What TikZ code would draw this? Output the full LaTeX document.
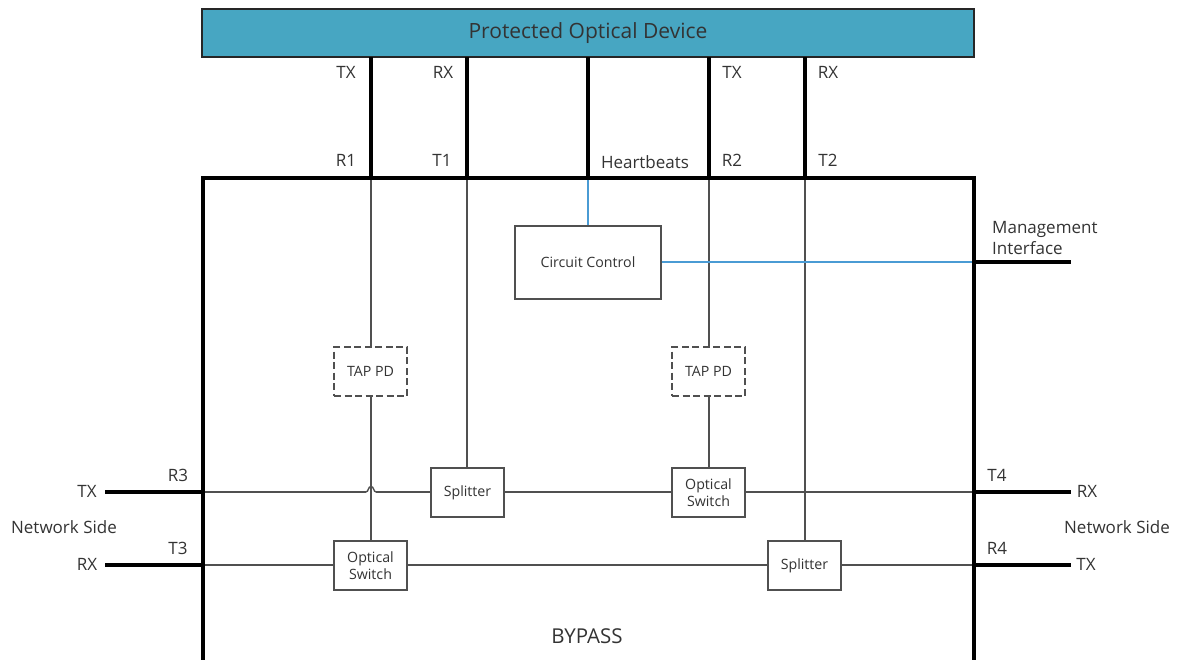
\documentclass[tikz,border=0pt]{standalone}
\usepackage{fontspec}
\setmainfont{Open Sans}
\definecolor{dev}{HTML}{47A6C2}
\definecolor{ctrl}{HTML}{4A9BD4}
\definecolor{txt}{HTML}{333333}
\definecolor{wirecol}{HTML}{505050}
\tikzset{
  x=1pt,y=-1pt,
  thickline/.style={line width=3.2pt,black},
  thinline/.style={line width=1.4pt,draw=wirecol},
  ctrlline/.style={line width=1.3pt,draw=ctrl},
  blockbox/.style={draw=wirecol,line width=1.4pt,fill=white,minimum width=73pt,minimum height=49pt,inner sep=0pt,align=center,font=\fontsize{14.2}{17}\selectfont,text=txt},
  dashbox/.style={blockbox,dash pattern=on 7pt off 3.5pt},
  lbl/.style={inner sep=0pt,text=txt,font=\fontsize{17}{20}\selectfont,align=left},
}
\begin{document}
\begin{tikzpicture}
\useasboundingbox (0,0) rectangle (1182,659);
\clip (0,0) rectangle (1182,659);
% Device
\node[draw=black!85,line width=1.6pt,fill=dev,minimum width=772pt,minimum height=48pt,inner sep=0pt,font=\fontsize{21}{25}\selectfont,text=black!80] (dev) at (588,33) {\raisebox{-1pt}{Protected Optical Device}};
% Coordinates on the outline
\foreach \n/\x in {a/371,b/467,c/588,d/709,e/805}{
  \coordinate (\n top) at (\x,57);
  \coordinate (\n mid) at (\x,178);
}
\coordinate (ltop) at (203,178);
\coordinate (rtop) at (974,178);
\coordinate (lbot) at (203,662);
\coordinate (rbot) at (974,662);
\coordinate (r3) at (203,492);
\coordinate (t3) at (203,565);
\coordinate (t4) at (974,492);
\coordinate (r4) at (974,565);
\coordinate (mi) at (974,262);
\coordinate (miend) at (1071,262);
\coordinate (txl) at (105,492);
\coordinate (rxl) at (105,565);
\coordinate (rxr) at (1071,492);
\coordinate (txr) at (1071,565);
\coordinate (jumpa) at (366,492);
\coordinate (jumpb) at (376,492);
% Blocks
\node[blockbox,minimum width=146pt,minimum height=73pt] (cc) at (588,262.5) {Circuit Control};
\node[dashbox] (tap1) at (370.5,371.5) {TAP PD};
\node[dashbox] (tap2) at (708.5,371.5) {TAP PD};
\node[blockbox] (spl1) at (467.5,492.5) {Splitter};
\node[blockbox,font=\fontsize{14.2}{16.5}\selectfont] (os2) at (708.5,492.5) {Optical\\Switch};
\node[blockbox,font=\fontsize{14.2}{16.5}\selectfont] (os1) at (370.5,565.5) {Optical\\Switch};
\node[blockbox] (spl2) at (804.5,565.5) {Splitter};
% Thin connectors
\draw[thinline] (amid) -- (tap1.north -| amid);
\draw[thinline] (tap1.south -| amid) -- (os1.north -| amid);
\draw[thinline] (bmid) -- (spl1.north -| bmid);
\draw[thinline] (dmid) -- (tap2.north -| dmid);
\draw[thinline] (tap2.south -| dmid) -- (os2.north -| dmid);
\draw[thinline] (emid) -- (spl2.north -| emid);
\draw[thinline] (r3) -- (jumpa);
\draw[thinline] (jumpa) .. controls (368.5,492) and (368,486.5) .. (371,486.5) .. controls (374,486.5) and (373.5,492) .. (jumpb);
\draw[thinline] (jumpb) -- (spl1.west |- r3);
\draw[thinline] (spl1.east |- r3) -- (os2.west |- r3);
\draw[thinline] (os2.east |- t4) -- (t4);
\draw[thinline] (t3) -- (os1.west |- t3);
\draw[thinline] (os1.east |- t3) -- (spl2.west |- t3);
\draw[thinline] (spl2.east |- r4) -- (r4);
% Control
\draw[ctrlline] (cmid) -- (cc.north -| cmid);
\draw[ctrlline] (cc.east |- mi) -- (mi);
% Thick
\draw[thickline] (atop) -- (amid);
\draw[thickline] (btop) -- (bmid);
\draw[thickline] (ctop) -- (cmid);
\draw[thickline] (dtop) -- (dmid);
\draw[thickline] (etop) -- (emid);
\draw[thickline] (lbot) -- (ltop) -- (rtop) -- (rbot);
\draw[thickline] (txl) -- (r3);
\draw[thickline] (rxl) -- (t3);
\draw[thickline] (t4) -- (rxr);
\draw[thickline] (r4) -- (txr);
\draw[thickline] (mi) -- (miend);
% Labels
\node[lbl] (l1) at (346,72) {TX};
\node[lbl] (l2) at (443,72) {RX};
\node[lbl] (l3) at (732,72) {TX};
\node[lbl] (l4) at (828,72) {RX};
\node[lbl] (l5) at (346,160) {R1};
\node[lbl] (l6) at (442,160) {T1};
\node[lbl] (l7) at (645,162) {Heartbeats};
\node[lbl] (l8) at (732,160) {R2};
\node[lbl] (l9) at (828,160) {T2};
\node[lbl,anchor=west,font=\fontsize{17}{21}\selectfont] (l10) at (992,238) {Management\\Interface};
\node[lbl] (l11) at (178,475) {R3};
\node[lbl] (l12) at (178,548) {T3};
\node[lbl] (l13) at (997,475) {T4};
\node[lbl] (l14) at (997,548) {R4};
\node[lbl] (l15) at (87,491) {TX};
\node[lbl] (l16) at (87,564) {RX};
\node[lbl] (l17) at (1087,491) {RX};
\node[lbl] (l18) at (1086,564) {TX};
\node[lbl] (l19) at (64,527) {Network Side};
\node[lbl] (l20) at (1117,527) {Network Side};
\node[lbl,font=\fontsize{20.5}{24}\selectfont] (l21) at (587,636) {BYPASS};
\end{tikzpicture}
\end{document}
